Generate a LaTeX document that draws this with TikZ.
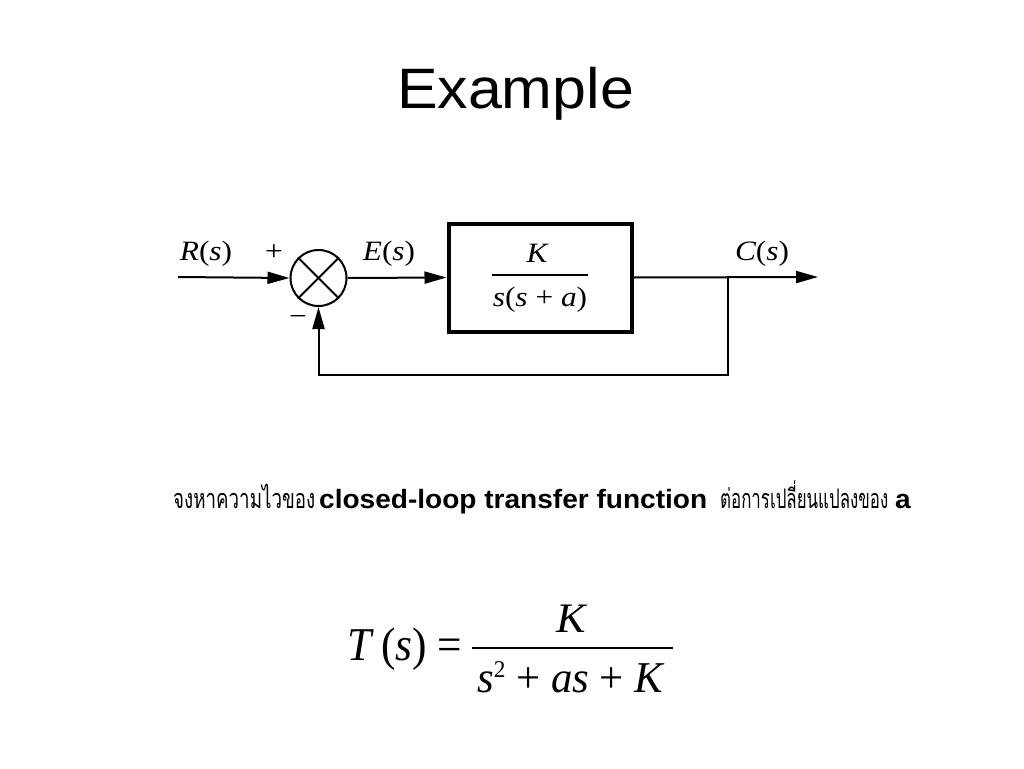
\documentclass[tikz,border=0pt]{standalone}
\usepackage{fontspec}
\usepackage{graphicx}
\setmainfont{Liberation Serif}
\newfontfamily\arial{Liberation Sans}
\newfontfamily\thaifont[Script=Thai]{Loma}
\usetikzlibrary{arrows.meta}
\newcommand{\sx}[1]{\scalebox{1.12}[1]{#1}}
\newcommand{\fs}[1]{\fontsize{#1}{#1}\selectfont}
\begin{document}
\begin{tikzpicture}[x=1pt,y=-1pt,
  line/.style={line width=2pt},
  arr/.style={line width=2pt,-{Triangle[length=22pt,width=12pt]}},
  lab/.style={inner sep=0pt,anchor=base},
  txt/.style={inner sep=0pt,anchor=base west}]
\fill[white] (0,0) rectangle (1024,768);
\useasboundingbox (0,0) rectangle (1024,768);
% title
\node[lab] (title) at (515.5,108) {\resizebox{237pt}{\height}{\arial\fs{57}Example}};
% block diagram
\node[circle,draw,line width=2pt,minimum size=56pt,inner sep=0pt] (sum) at (318.5,278) {};
\draw[line] (sum.45) -- (sum.225);
\draw[line] (sum.135) -- (sum.315);
\node[draw,line width=4pt,minimum width=183pt,minimum height=108pt,inner sep=0pt] (plant) at (540,277.5) {};
\node[lab] (Kb) at (537,262) {\sx{\fs{28}\itshape K}};
\node[lab] (den) at (540,306) {\sx{\fs{28}{\itshape s}({\itshape s} + {\itshape a})}};
\draw[line width=1.5pt] (492,275) -- (588,275);
\coordinate (rin) at (178,277);
\coordinate (branch) at (728,277);
\coordinate (cout) at (818,277);
\coordinate (fbr) at (728,375);
\draw[arr] (rin) -- (sum.west);
\draw[arr] (sum.east) -- (plant.west);
\draw[arr] (plant.east) -- (cout);
\draw[arr] (branch) -- (fbr) -| (sum.south);
\node[lab] (Rs) at (206,260) {\sx{\fs{28}{\itshape R}({\itshape s})}};
\node[lab] (Es) at (389,260) {\sx{\fs{28}{\itshape E}({\itshape s})}};
\node[lab] (Cs) at (762,260) {\sx{\fs{28}{\itshape C}({\itshape s})}};
\node[inner sep=0pt] (plus) at (274,253) {\sx{\fs{28}+}};
\node[inner sep=0pt] (minus) at (298,320) {\sx{\fs{28}−}};
% Thai sentence
\node[txt] (th1) at (173,508) {\resizebox{142pt}{\height}{\thaifont\fs{27}จงหาความไวของ}};
\node[txt] (en) at (319,508) {\resizebox{388pt}{\height}{\arial\bfseries\fs{26.5}closed-loop transfer function}};
\node[txt] (th2) at (720,508) {\resizebox{168pt}{\height}{\thaifont\fs{27}ต่อการเปลี่ยนแปลงของ}};
\node[txt] (ea) at (895,508) {\scalebox{1.06}[1]{\arial\bfseries\fs{26.5}a}};
% formula
\node[txt] (Ts) at (347,660) {\resizebox{115pt}{\height}{\fs{47}{\itshape T\/}\,({\itshape s}) =}};
\draw[line width=1.5pt] (472,648) -- (673,648);
\node[lab] (num) at (571,632) {\scalebox{1.05}[1]{\fs{42}\itshape K}};
\node[txt] (fden) at (477,692) {\resizebox{186pt}{\height}{\fs{44}{\itshape s}\raisebox{15pt}{\fs{24}2} + {\itshape as} + {\itshape K}}};
\end{tikzpicture}
\end{document}
